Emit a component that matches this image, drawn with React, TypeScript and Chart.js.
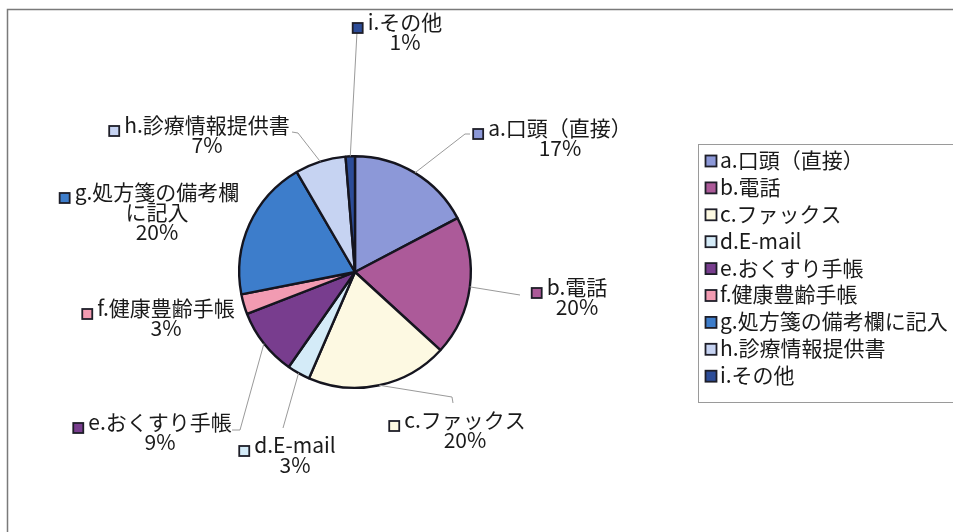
import React, { useEffect, useRef } from "react";
import { Chart, registerables } from "chart.js";

Chart.register(...registerables);

// ---- data ----
const CATEGORIES: string[] = [
  "a.口頭（直接）",
  "b.電話",
  "c.ファックス",
  "d.E-mail",
  "e.おくすり手帳",
  "f.健康豊齢手帳",
  "g.処方箋の備考欄に記入",
  "h.診療情報提供書",
  "i.その他",
];
const SHARES: number[] = [17.3, 19.5, 19.7, 3.2, 9.4, 2.8, 19.7, 7.1, 1.3];
// where to break a data label onto a second line (null = no break)
const LABEL_WRAP: (number | null)[] = [null, null, null, null, null, null, 9, null, null];

// ---- styles ----
const COLORS = [
  "#8c98d8",
  "#ac5a99",
  "#fdf9e2",
  "#d4ebf8",
  "#783d8e",
  "#f29bb2",
  "#3d7dcb",
  "#c6d3f2",
  "#2c4c98",
];
const FONT_FAMILY = '"Noto Sans CJK JP", "Noto Sans", sans-serif';
const FONT_SIZE = 21;
const LINE_H = 20;

// label placement relative to pie centre: text centre (dx, dy of first line), leader elbow points
const LABEL_LAYOUT: { dx: number; dy: number; leader: [number, number][] }[] = [
  { dx: 205, dy: -144, leader: [[110, -138], [115, -138]] },
  { dx: 222, dy: 15, leader: [[165, 23]] },
  { dx: 110, dy: 148, leader: [[97, 125], [98, 131]] },
  { dx: -60, dy: 173, leader: [[-72, 156]] },
  { dx: -195, dy: 150, leader: [[-115, 158], [-123, 158]] },
  { dx: -189, dy: 36, leader: [] },
  { dx: -198, dy: -80, leader: [] },
  { dx: -148, dy: -147, leader: [[-57, -139], [-63, -140]] },
  { dx: 50, dy: -250, leader: [[2, -240]] },
];

const drawMarker = (ctx: CanvasRenderingContext2D, x: number, y: number, color: string, size: number) => {
  ctx.save();
  ctx.fillStyle = color;
  ctx.fillRect(x - size / 2, y - size / 2, size, size);
  ctx.strokeStyle = "#1e1e28";
  ctx.lineWidth = 1.8;
  ctx.strokeRect(x - size / 2, y - size / 2, size, size);
  ctx.restore();
};

const framePlugin = {
  id: "frame",
  beforeDraw(chart: any) {
    const ctx = chart.ctx as CanvasRenderingContext2D;
    ctx.save();
    ctx.fillStyle = "#ffffff";
    ctx.fillRect(0, 0, chart.width, chart.height);
    ctx.strokeStyle = "#7a7a7a";
    ctx.lineWidth = 1.5;
    ctx.strokeRect(7.5, 9.5, chart.width + 20, chart.height + 20);
    ctx.restore();
  },
};

const labelPlugin = {
  id: "sliceLabels",
  afterDatasetsDraw(chart: any) {
    const ctx = chart.ctx as CanvasRenderingContext2D;
    const meta = chart.getDatasetMeta(0);
    const values: number[] = chart.data.datasets[0].data;
    const total = values.reduce((s, v) => s + v, 0);
    ctx.save();
    ctx.font = `${FONT_SIZE}px ${FONT_FAMILY}`;
    ctx.textAlign = "center";
    ctx.textBaseline = "middle";
    meta.data.forEach((arc: any, i: number) => {
      const p = arc.getProps(["x", "y", "startAngle", "endAngle", "outerRadius"], true);
      const mid = (p.startAngle + p.endAngle) / 2;
      const lay = LABEL_LAYOUT[i];
      if (lay.leader.length) {
        ctx.beginPath();
        ctx.strokeStyle = "#9a9a9a";
        ctx.lineWidth = 1;
        ctx.moveTo(p.x + Math.cos(mid) * p.outerRadius, p.y + Math.sin(mid) * p.outerRadius);
        lay.leader.forEach(([lx, ly]) => ctx.lineTo(p.x + lx, p.y + ly));
        ctx.stroke();
      }
      const name = chart.data.labels[i] as string;
      const wrap = LABEL_WRAP[i];
      const lines = wrap == null ? [name] : [name.slice(0, wrap), name.slice(wrap)];
      lines.push(`${Math.round((values[i] / total) * 100)}%`);
      const maxW = Math.max(...lines.map((l) => ctx.measureText(l).width));
      const tx = p.x + lay.dx;
      const ty = p.y + lay.dy;
      ctx.fillStyle = "#1a1a1a";
      lines.forEach((l, k) => ctx.fillText(l, tx, ty + k * LINE_H));
      drawMarker(ctx, tx - maxW / 2 - 10, ty + 6, COLORS[i], 10);
    });
    ctx.restore();
  },
};

const legendPlugin = {
  id: "boxLegend",
  afterDraw(chart: any) {
    const ctx = chart.ctx as CanvasRenderingContext2D;
    ctx.save();
    ctx.strokeStyle = "#9a9a9a";
    ctx.lineWidth = 1;
    ctx.strokeRect(698.5, 144.5, 300, 258);
    ctx.font = `${FONT_SIZE}px ${FONT_FAMILY}`;
    ctx.textAlign = "left";
    ctx.textBaseline = "middle";
    ctx.fillStyle = "#1a1a1a";
    (chart.data.labels as string[]).forEach((lab, i) => {
      const y = 160 + i * 26.9;
      drawMarker(ctx, 711, y + 1, COLORS[i], 11);
      ctx.fillText(lab, 720, y);
    });
    ctx.restore();
  },
};

export default function App() {
  const ref = useRef<HTMLCanvasElement | null>(null);
  useEffect(() => {
    document.body.style.margin = "0";
    const canvas = ref.current!;
    const chart = new Chart(canvas, {
      type: "pie",
      data: {
        labels: CATEGORIES,
        datasets: [
          {
            data: SHARES,
            backgroundColor: COLORS,
            borderColor: "#15151f",
            borderWidth: 2.4,
          },
        ],
      },
      options: {
        animation: false,
        responsive: false,
        devicePixelRatio: 1,
        layout: { padding: { left: 238, right: 481, top: 155, bottom: 143 } },
        plugins: {
          legend: { display: false },
          tooltip: { enabled: false },
        },
      },
      plugins: [framePlugin, labelPlugin, legendPlugin],
    });
    return () => chart.destroy();
  }, []);
  return (
    <div style={{ position: "fixed", left: 0, top: 0, width: 953, height: 532, background: "#fff" }}>
      <canvas ref={ref} width={953} height={532} style={{ width: 953, height: 532 }} />
    </div>
  );
}
